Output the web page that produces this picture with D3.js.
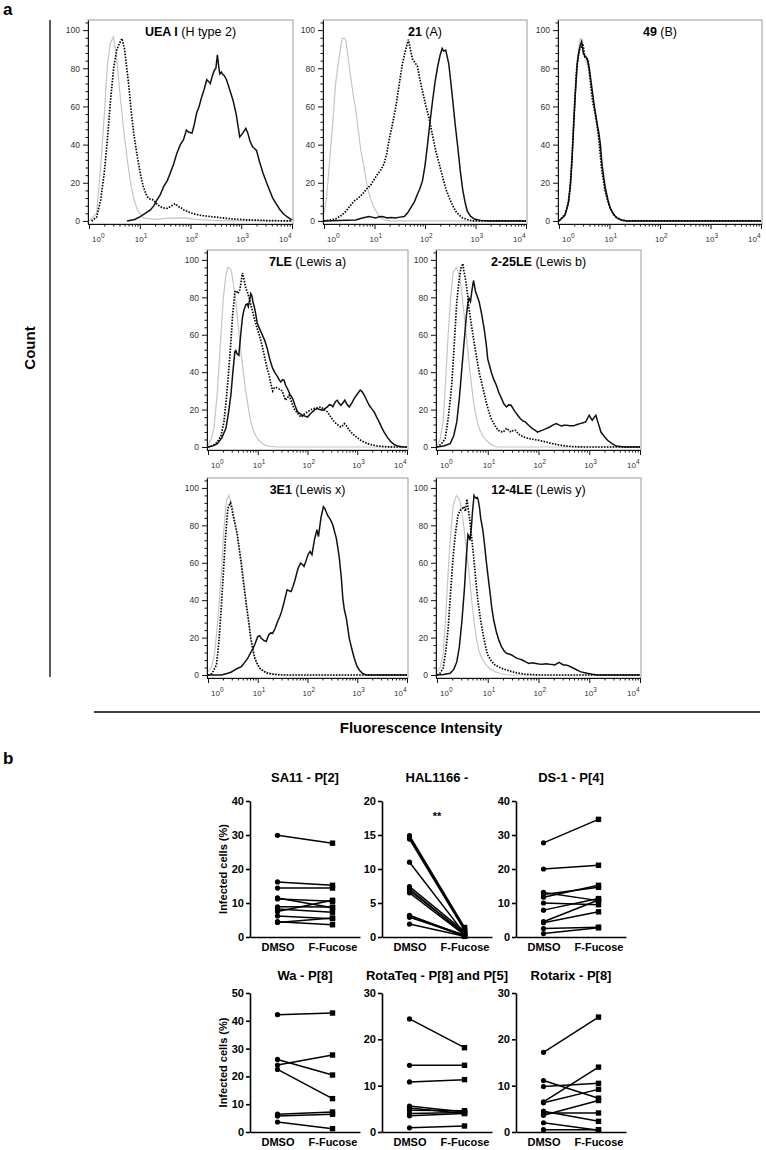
<!DOCTYPE html>
<html><head><meta charset="utf-8">
<script src="https://cdn.jsdelivr.net/npm/d3@7"></script>
<style>
body{margin:0;background:#fff}
svg{display:block;font-family:"Liberation Sans",Arial,Helvetica,sans-serif}
</style>
</head><body>
<svg id="chart" width="766" height="1150"></svg>
<script>
// ---------- Panel a : flow-cytometry histograms (x = log10 fluorescence, y = count %) ----------
const histBold = ["UEA I", "21", "49", "7LE", "2-25LE", "3E1", "12-4LE"];
const histNormal = [" (H type 2)", " (A)", " (B)", " (Lewis a)", " (Lewis b)", " (Lewis x)", " (Lewis y)"];
const yTickValues = [0, 20, 40, 60, 80, 100];
const xDecades = [0, 1, 2, 3, 4];

const ueaCtrl = [[0,0],[0.15,4],[0.23,28],[0.3,55],[0.36,81],[0.42,93],[0.48,96.5],[0.52,90],[0.56,81],[0.62,64],[0.69,46],[0.76,31],[0.82,20],[0.88,12],[0.95,6],[1.02,3],[1.08,1.5],[1.3,0.8],[1.6,1.5],[1.9,1.6],[2.1,0.8],[2.4,0.3],[3,0],[4,0]];
const ueaDot = [[0.05,0],[0.15,2],[0.23,11],[0.3,25],[0.36,42],[0.43,65],[0.49,81],[0.55,90],[0.6,93],[0.65,95.6],[0.7,90],[0.74,81],[0.78,72],[0.83,58],[0.88,46],[0.95,34],[1.01,25],[1.07,18],[1.14,13],[1.2,11.5],[1.27,11],[1.33,9],[1.4,7.5],[1.47,6.8],[1.54,6.6],[1.62,7.8],[1.7,9],[1.76,7.5],[1.82,6.8],[1.86,5.8],[1.94,5],[2.03,4],[2.1,3.5],[2.19,3],[2.3,2.6],[2.42,2.2],[2.52,2],[2.68,1.4],[2.84,1],[3.1,0.6],[3.5,0.2],[4,0]];
const ueaSolid = [[0.75,0],[0.9,0.8],[1.01,2.3],[1.1,3.8],[1.21,5.8],[1.28,8],[1.34,11],[1.4,13.5],[1.47,18],[1.54,21],[1.6,25],[1.67,30],[1.73,35.4],[1.8,40],[1.86,42.4],[1.92,47.6],[1.97,46.5],[2.03,46],[2.07,50],[2.12,56.4],[2.17,60],[2.22,65],[2.27,69],[2.32,74],[2.36,73],[2.39,72],[2.43,76],[2.47,79],[2.5,80],[2.53,87],[2.56,80],[2.58,77],[2.61,78],[2.63,77],[2.67,76],[2.71,74],[2.77,69],[2.84,63],[2.9,56],[2.97,44],[3.03,46],[3.09,48.5],[3.13,46],[3.17,42],[3.22,39],[3.26,38],[3.3,37],[3.36,31],[3.43,25],[3.5,20],[3.56,16],[3.62,12],[3.69,9],[3.76,6],[3.82,4],[3.9,2.2],[3.95,1.4],[4,0.5]];

const aCtrl = [[0,4],[0.05,12],[0.1,28],[0.17,50],[0.23,72],[0.3,86],[0.36,95.6],[0.4,95.8],[0.43,95],[0.48,85],[0.53,75],[0.58,66],[0.63,58],[0.68,47],[0.73,37],[0.8,27],[0.86,17.5],[0.93,11],[0.99,7],[1.06,4],[1.12,1.7],[1.2,0.5],[1.29,0],[4,0]];
const aDot = [[0,0],[0.23,1],[0.35,3],[0.43,5],[0.52,8],[0.6,10.5],[0.68,12],[0.76,14],[0.85,17],[0.93,19],[1.0,22],[1.06,24.5],[1.13,27],[1.19,30],[1.24,35],[1.29,42.5],[1.35,50],[1.42,59.4],[1.48,70],[1.55,82],[1.61,89],[1.67,95],[1.71,90],[1.75,85],[1.8,83],[1.85,81],[1.9,74],[1.95,68],[2.01,61],[2.08,54],[2.14,46],[2.21,37],[2.28,30],[2.35,23],[2.41,17],[2.48,12],[2.55,8],[2.61,5],[2.68,3],[2.74,1.7],[2.85,0.6],[2.94,0],[4,0]];
const aSolid = [[0,0],[0.3,0.2],[0.63,0.5],[0.76,1.5],[0.89,2.3],[0.95,2],[1.02,1.5],[1.09,2.2],[1.16,2.3],[1.25,1.6],[1.33,1.8],[1.42,1.5],[1.5,2],[1.59,2.3],[1.65,4],[1.72,7],[1.79,10],[1.85,14],[1.9,17],[1.95,21],[2.0,29],[2.05,40],[2.1,52],[2.15,63],[2.2,73],[2.25,80.8],[2.3,87],[2.34,90.4],[2.37,89],[2.41,89.5],[2.44,86],[2.47,82.5],[2.51,73],[2.55,63],[2.6,50],[2.65,38.5],[2.7,26],[2.75,15.7],[2.8,9],[2.84,5],[2.9,2.5],[2.98,1],[3.1,0.3],[3.27,0],[4,0]];

const bCtrl = [[0,0],[0.1,2],[0.18,8],[0.24,25],[0.3,55],[0.36,84],[0.41,94],[0.43,96],[0.47,90],[0.52,85],[0.58,80],[0.64,70],[0.7,60],[0.76,50],[0.81,38],[0.87,25],[0.93,14],[1.0,7],[1.08,3],[1.18,1],[1.35,0],[4,0]];
const bDot = [[0,0],[0.12,3.5],[0.18,9],[0.22,17],[0.25,30],[0.28,45],[0.31,62],[0.35,80],[0.38,86],[0.41,90],[0.44,91],[0.47,93],[0.49,90],[0.51,86],[0.55,85],[0.58,83.5],[0.61,76],[0.64,68],[0.67,62],[0.71,57],[0.75,51],[0.78,45],[0.81,37],[0.84,28],[0.88,21],[0.91,16],[0.96,11],[1.01,7],[1.07,4],[1.14,1.7],[1.22,0.6],[1.34,0],[4,0]];
const bSolid = [[0,0],[0.12,3],[0.19,10],[0.23,20],[0.26,33],[0.29,50],[0.33,70],[0.36,82],[0.39,88],[0.42,92],[0.45,94],[0.48,88],[0.5,87],[0.53,86],[0.56,85],[0.6,80],[0.64,72],[0.67,66],[0.7,60],[0.73,55],[0.76,50],[0.79,46],[0.82,40],[0.85,30],[0.89,22],[0.92,17],[0.97,11],[1.01,7],[1.08,3.5],[1.14,1.7],[1.25,0.4],[1.35,0],[4,0]];

const leaCtrl = [[0,1],[0.06,4],[0.12,10],[0.19,30],[0.26,60],[0.31,80],[0.36,92],[0.4,96],[0.44,95.5],[0.47,94],[0.51,87],[0.56,77.7],[0.61,64],[0.66,51],[0.71,40],[0.76,29.5],[0.81,21],[0.86,13.4],[0.91,9],[0.96,6],[1.01,4],[1.06,2.7],[1.12,1.4],[1.19,0.5],[1.4,0],[4,0]];
const leaDot = [[0,0],[0.1,0.8],[0.19,2.7],[0.26,6],[0.32,13.4],[0.37,26],[0.42,42],[0.46,56],[0.49,68.8],[0.52,77],[0.54,83],[0.57,83.5],[0.6,82],[0.62,83],[0.64,84],[0.67,89],[0.69,93],[0.72,90],[0.76,85],[0.8,82],[0.83,79.5],[0.88,74],[0.93,68.8],[0.98,64],[1.03,60],[1.08,55],[1.13,49],[1.18,43],[1.23,38],[1.27,33],[1.3,30],[1.33,31.5],[1.36,32],[1.4,31.5],[1.43,31],[1.47,30.5],[1.5,29.5],[1.53,27],[1.56,25],[1.6,26.5],[1.63,27.7],[1.68,24],[1.73,20.5],[1.8,18],[1.87,16],[1.93,17.5],[2.0,18.8],[2.07,20],[2.13,20.5],[2.2,21],[2.27,21.4],[2.33,20],[2.4,18.8],[2.47,16],[2.54,13.4],[2.6,12],[2.67,10.7],[2.71,11.5],[2.74,12.5],[2.79,11],[2.84,9],[2.89,7.5],[2.94,6.2],[3.0,5],[3.07,3.6],[3.14,2.6],[3.21,1.8],[3.3,1.1],[3.41,0.5],[3.6,0.1],[3.75,0],[4,0]];
const leaSolid = [[0,0],[0.1,0.6],[0.19,1.8],[0.28,5],[0.36,10],[0.41,18],[0.46,27.7],[0.5,40],[0.54,51],[0.56,51.5],[0.58,50],[0.6,49.5],[0.62,49],[0.65,58],[0.69,68.8],[0.72,73],[0.76,76],[0.79,76.5],[0.81,75],[0.84,79],[0.86,82],[0.88,81],[0.9,78],[0.93,75],[0.96,71],[0.99,66],[1.04,63],[1.09,60],[1.14,57],[1.19,52.7],[1.24,47],[1.3,42],[1.35,39.5],[1.4,37.5],[1.43,36],[1.46,34.8],[1.5,36],[1.53,35.7],[1.56,33],[1.6,31],[1.65,28],[1.7,26],[1.75,22],[1.8,18.8],[1.85,17.8],[1.9,17],[1.95,16.5],[2.0,16],[2.05,17.5],[2.1,18.8],[2.15,20],[2.2,20.5],[2.25,20],[2.3,19.6],[2.35,20.5],[2.4,21.4],[2.44,22.6],[2.48,22.3],[2.51,21.5],[2.54,23.2],[2.57,24.5],[2.6,25],[2.63,23.5],[2.67,22.3],[2.71,23.5],[2.75,25],[2.79,23],[2.84,21.4],[2.89,23.5],[2.94,26],[2.98,27.5],[3.02,29],[3.06,30.4],[3.1,29.5],[3.14,27.7],[3.19,25],[3.24,22.3],[3.29,20.5],[3.34,18.8],[3.39,16],[3.44,13.4],[3.49,10.5],[3.54,8],[3.61,5],[3.68,2.7],[3.75,1.2],[3.81,0.5],[3.9,0.1],[4,0]];

const lebCtrl = [[0,1],[0.06,4],[0.12,13.4],[0.17,35],[0.22,60],[0.27,80],[0.32,93.8],[0.38,96],[0.41,94],[0.45,90],[0.49,82],[0.53,72],[0.58,59],[0.63,45.5],[0.68,33],[0.73,22.3],[0.78,15],[0.83,10],[0.9,6],[0.97,3.6],[1.05,1.8],[1.12,0.6],[1.2,0],[4,0]];
const lebDot = [[0,0],[0.08,1.5],[0.16,4.5],[0.22,15],[0.29,33],[0.34,55],[0.39,77.7],[0.43,88],[0.47,95.5],[0.51,98],[0.53,94],[0.56,90],[0.6,82],[0.63,74],[0.68,65],[0.73,56],[0.78,48],[0.83,40],[0.9,32],[0.97,24],[1.02,19],[1.07,15],[1.13,12],[1.2,9],[1.25,8.3],[1.3,8],[1.34,9],[1.37,10],[1.41,9],[1.46,8],[1.5,8.8],[1.54,9],[1.59,7.5],[1.64,6.2],[1.72,5.3],[1.81,4.5],[1.91,4],[2.01,3.6],[2.14,2.7],[2.28,1.8],[2.42,1],[2.55,0.5],[2.7,0.2],[2.89,0],[4,0]];
const lebSolid = [[0,0],[0.13,0.5],[0.26,1.8],[0.33,6],[0.39,13.4],[0.44,26],[0.49,42],[0.54,58],[0.58,70.5],[0.61,77],[0.63,79.5],[0.66,77.7],[0.69,84],[0.72,89],[0.74,86],[0.76,83],[0.8,80],[0.83,77.7],[0.88,71],[0.93,63],[0.97,55],[1.0,47],[1.04,43],[1.07,40],[1.12,36],[1.17,33],[1.22,29],[1.27,26],[1.32,23],[1.37,21.4],[1.41,22.5],[1.46,22.3],[1.5,20.5],[1.54,18.8],[1.59,17],[1.64,15.2],[1.69,14],[1.74,13.4],[1.81,11.5],[1.88,9.8],[1.93,9],[1.98,8],[2.03,8.5],[2.08,9],[2.15,9.8],[2.22,10.7],[2.29,11.8],[2.35,12.5],[2.4,11.8],[2.45,11.3],[2.5,11.6],[2.55,11.6],[2.62,11.3],[2.69,11.3],[2.76,12],[2.82,12.5],[2.88,13],[2.93,13.4],[2.97,15.5],[3.0,17],[3.03,15.5],[3.06,14.3],[3.1,16],[3.13,17],[3.18,12.5],[3.23,8],[3.3,5.5],[3.36,3.6],[3.45,1.8],[3.53,0.5],[3.7,0],[4,0]];

const lxCtrl = [[0,1.8],[0.07,4],[0.13,10.7],[0.2,30],[0.27,55],[0.32,78],[0.37,93],[0.42,96],[0.45,94],[0.48,91],[0.52,85],[0.57,77],[0.62,69],[0.67,61],[0.72,50],[0.77,39],[0.82,28],[0.87,18],[0.92,11],[0.97,7],[1.02,4.5],[1.07,2.7],[1.17,1.5],[1.27,0.9],[1.45,0.3],[1.6,0],[4,0]];
const lxDot = [[0,0],[0.08,0.8],[0.17,5.4],[0.22,18],[0.27,37.5],[0.31,55],[0.35,73],[0.38,83],[0.4,89],[0.43,91],[0.45,92],[0.48,89],[0.5,85.7],[0.55,80],[0.59,75],[0.63,67],[0.67,59],[0.72,48],[0.77,37.5],[0.82,28],[0.86,19.6],[0.9,14],[0.94,9],[0.99,6],[1.04,3.6],[1.12,2],[1.2,0.9],[1.33,0.3],[1.47,0],[4,0]];
const lxSolid = [[0,0],[0.27,0],[0.4,0.9],[0.47,1.6],[0.54,2.7],[0.6,3.6],[0.67,4.5],[0.73,6.5],[0.8,9],[0.85,11.5],[0.9,14],[0.95,17],[1.0,20.5],[1.04,21],[1.07,19.6],[1.12,18.5],[1.17,17.9],[1.22,21.4],[1.26,22.5],[1.3,22.3],[1.35,25],[1.4,28.6],[1.44,31],[1.48,34],[1.53,39],[1.59,45.5],[1.63,45],[1.67,44.6],[1.71,47.5],[1.74,50],[1.78,54],[1.81,57],[1.86,59.8],[1.9,59],[1.93,58],[1.97,61],[2.01,64.3],[2.05,66],[2.09,64.3],[2.14,72.3],[2.19,77.7],[2.22,74],[2.27,84],[2.32,90],[2.35,89],[2.37,87.5],[2.41,85],[2.44,84],[2.48,82],[2.51,80],[2.55,76],[2.58,73],[2.61,68],[2.64,62.5],[2.68,52],[2.71,41],[2.74,35],[2.78,30.4],[2.81,25],[2.84,19.6],[2.89,14],[2.94,9],[2.99,5],[3.04,2.7],[3.1,1],[3.18,0],[4,0]];

const lyCtrl = [[0,1.8],[0.06,4],[0.12,10.7],[0.17,30],[0.22,55],[0.27,76],[0.32,91],[0.38,96],[0.41,95],[0.45,93],[0.49,87],[0.53,79],[0.58,67],[0.63,55],[0.68,41],[0.73,28.6],[0.78,19],[0.83,12.5],[0.9,8],[0.97,5.4],[1.05,3.2],[1.14,1.8],[1.25,0.8],[1.4,0],[4,0]];
const lyDot = [[0,0],[0.06,1],[0.12,3.6],[0.17,12],[0.22,25],[0.27,45],[0.32,64],[0.36,75],[0.41,85],[0.44,87],[0.47,88.4],[0.5,89],[0.53,90],[0.56,87.5],[0.59,94],[0.62,88],[0.65,82],[0.68,74],[0.72,64],[0.76,52],[0.8,41],[0.85,31],[0.9,23],[0.95,16],[1.0,10.7],[1.07,7.5],[1.14,5.4],[1.2,4.5],[1.27,3.6],[1.37,2.7],[1.47,1.8],[1.6,1],[1.74,0.4],[2.0,0],[4,0]];
const lySolid = [[0,0],[0.13,0.3],[0.26,0.9],[0.33,3],[0.39,7],[0.44,15],[0.49,28.6],[0.54,46],[0.58,64],[0.61,75],[0.63,74],[0.65,72],[0.68,80],[0.7,87.5],[0.73,96],[0.75,95],[0.77,94.6],[0.79,95],[0.81,94],[0.84,89],[0.86,84],[0.9,78],[0.93,71.4],[0.97,61],[1.01,51.8],[1.05,43],[1.08,35.7],[1.12,29],[1.17,23],[1.22,18.5],[1.27,15.2],[1.32,13],[1.37,11.6],[1.42,11.2],[1.47,10.7],[1.52,9.8],[1.57,9],[1.63,8.5],[1.68,8],[1.75,7],[1.81,6.2],[1.88,6.5],[1.95,6.2],[2.01,5.9],[2.08,5.7],[2.15,6],[2.22,5.7],[2.28,5.6],[2.32,5.4],[2.37,6.2],[2.41,6.8],[2.45,6],[2.49,5.4],[2.54,5.3],[2.59,5],[2.64,4.3],[2.69,3.6],[2.76,2.7],[2.82,1.8],[2.89,1.3],[2.96,0.9],[3.06,0.4],[3.16,0],[4,0]];

// ---------- Panel b : infected cells (%) ----------
const conditions = ["DMSO", "F-Fucose"];
const strainTitles = ["SA11 - P[2]", "HAL1166 -", "DS-1 - P[4]", "Wa - P[8]", "RotaTeq - P[8] and P[5]", "Rotarix - P[8]"];
const yMaxima = [40, 20, 40, 50, 30, 30];
const yStepValues = [10, 5, 10, 10, 10, 10];

const sa11Dmso = [29.9, 16.2, 14.4, 11.5, 11.2, 8.9, 8.2, 7.5, 6.2, 4.5, 4.3];
const sa11Fucose = [27.6, 15.2, 14.4, 8.6, 10.5, 8.8, 7.3, 10.8, 5.4, 3.6, 5.6];
const halDmso = [14.9, 14.6, 14.4, 11.0, 7.4, 7.1, 6.8, 6.5, 3.2, 3.0, 2.9, 1.9];
const halFucose = [1.4, 1.2, 1.0, 0.5, 0.8, 0.4, 0.6, 0.3, 0.2, 0.1, 0.3, 0.1];
const ds1Dmso = [27.7, 20.0, 13.1, 12.5, 11.7, 10.0, 7.9, 4.5, 4.2, 2.5, 1.0];
const ds1Fucose = [34.6, 21.1, 10.7, 14.6, 15.2, 9.5, 11.3, 10.9, 7.4, 2.9, 2.7];
const waDmso = [42.2, 26.1, 24.1, 22.5, 6.4, 5.8, 3.6];
const waFucose = [42.8, 20.5, 27.7, 12.0, 7.2, 6.4, 1.2];
const rotateqDmso = [24.4, 14.4, 10.8, 5.6, 5.2, 4.7, 4.0, 3.5, 0.9];
const rotateqFucose = [18.2, 14.4, 11.3, 4.3, 4.0, 4.6, 4.2, 4.0, 1.3];
const rotarixDmso = [17.2, 11.1, 9.8, 6.5, 6.3, 4.5, 4.1, 3.6, 2.0, 0.5];
const rotarixFucose = [24.8, 7.3, 10.5, 14.0, 9.2, 2.3, 4.1, 6.8, 0.4, 0.5];

// ================= drawing =================
const svg = d3.select("#chart");

svg.append("text").attr("x", 3).attr("y", 15).attr("font-size", 17).attr("font-weight", "bold").text("a");
svg.append("text").attr("x", 3).attr("y", 764).attr("font-size", 17).attr("font-weight", "bold").text("b");

// frame lines + shared labels of panel a
svg.append("line").attr("x1", 50).attr("x2", 50).attr("y1", 20).attr("y2", 677).attr("stroke", "#000").attr("stroke-width", 1.3);
svg.append("text").attr("transform", "translate(35,348) rotate(-90)").attr("text-anchor", "middle")
  .attr("font-size", 15).attr("font-weight", "bold").text("Count");
svg.append("line").attr("x1", 94).attr("x2", 760).attr("y1", 712).attr("y2", 712).attr("stroke", "#000").attr("stroke-width", 1.3);
svg.append("text").attr("x", 421).attr("y", 733).attr("text-anchor", "middle")
  .attr("font-size", 15).attr("font-weight", "bold").text("Fluorescence Intensity");

const histSeries = [
  [ueaCtrl, ueaDot, ueaSolid], [aCtrl, aDot, aSolid], [bCtrl, bDot, bSolid],
  [leaCtrl, leaDot, leaSolid], [lebCtrl, lebDot, lebSolid],
  [lxCtrl, lxDot, lxSolid], [lyCtrl, lyDot, lySolid]
];
// layout: [left, right, top, axisY]
const histLayout = [
  [88, 293, 20, 224], [323, 527, 20, 224], [558, 762, 20, 224],
  [207, 408, 250, 450], [436, 641, 250, 450],
  [207, 408, 478, 678], [436, 641, 478, 678]
];

function histPanel(i) {
  const [x0, x1, top, axisY] = histLayout[i];
  const g = svg.append("g");
  const x = d3.scaleLog().domain([1, 1e4]).range([x0 + 1, x1 - 1]);
  const y = d3.scaleLinear().domain([-1.6, 105.3]).range([axisY, top]);

  g.append("rect").attr("x", x0).attr("y", top).attr("width", x1 - x0).attr("height", axisY - top)
    .attr("fill", "none").attr("stroke", "#9a9a9a").attr("stroke-width", 1);

  const line = d3.line().x(d => x(Math.pow(10, d[0]))).y(d => y(d[1]));
  const [ctrl, dot, solid] = histSeries[i];
  g.append("path").datum(ctrl).attr("d", line).attr("fill", "none").attr("stroke", "#c6c6c6").attr("stroke-width", 1.2);
  g.append("path").datum(solid).attr("d", line).attr("fill", "none").attr("stroke", "#111").attr("stroke-width", 1.5);
  g.append("path").datum(dot).attr("d", line).attr("fill", "none").attr("stroke", "#000")
    .attr("stroke-width", 1.7).attr("stroke-dasharray", "1.5,1.4");

  // y axis
  const yAx = g.append("g").attr("transform", `translate(${x0},0)`)
    .call(d3.axisLeft(y).tickValues(yTickValues).tickSize(5).tickSizeOuter(0).tickPadding(3).tickFormat(d3.format("d")));
  yAx.selectAll("text").attr("font-size", 8.5).attr("fill", "#333").attr("font-family", "Liberation Sans, Arial");
  const yMinor = d3.range(0, 105, 4).filter(v => v % 20 !== 0);
  const yAx2 = g.append("g").attr("transform", `translate(${x0},0)`)
    .call(d3.axisLeft(y).tickValues(yMinor).tickSize(2.5).tickFormat(""));
  yAx2.select(".domain").remove();
  g.selectAll(".tick line, .domain").attr("stroke", "#111");

  // x axis
  const majors = xDecades.map(e => Math.pow(10, e));
  const minors = [];
  for (let e = 0; e < 4; e++) for (let m = 2; m <= 9; m++) minors.push(m * Math.pow(10, e));
  const xAx = g.append("g").attr("transform", `translate(0,${axisY})`)
    .call(d3.axisBottom(x).tickValues(majors).tickSize(5).tickSizeOuter(0).tickFormat(""));
  xAx.select(".domain").attr("d", `M${x0},0.5H${x1}`);
  const xAx2 = g.append("g").attr("transform", `translate(0,${axisY})`)
    .call(d3.axisBottom(x).tickValues(minors).tickSize(2.5).tickFormat(""));
  xAx2.select(".domain").remove();
  g.selectAll(".tick line, .domain").attr("stroke", "#111").attr("stroke-width", 1);

  xDecades.forEach((e, k) => {
    const px = x(Math.pow(10, e));
    const off = k === 0 ? 3 : (k === 4 ? -13 : -5);
    const t = g.append("text").attr("x", px + off).attr("y", axisY + 18).attr("font-size", 8).attr("fill", "#333");
    t.append("tspan").text("10");
    t.append("tspan").attr("dy", -4).attr("font-size", 6.5).text(e);
  });

  const title = g.append("text").attr("x", (x0 + x1) / 2).attr("y", top + 16).attr("text-anchor", "middle").attr("font-size", 12.5);
  title.append("tspan").attr("font-weight", "bold").text(histBold[i]);
  title.append("tspan").text(histNormal[i]);
}
histSeries.forEach((s, i) => histPanel(i));

// ---------- panel b ----------
const strainData = [
  [sa11Dmso, sa11Fucose], [halDmso, halFucose], [ds1Dmso, ds1Fucose],
  [waDmso, waFucose], [rotateqDmso, rotateqFucose], [rotarixDmso, rotarixFucose]
];
const axisXs = [250, 382, 516];
const rowY = [[937, 801, 782], [1132, 993, 980]]; // [zeroY, topY, titleY]

function strainPanel(i) {
  const col = i % 3, row = Math.floor(i / 3);
  const ax = axisXs[col];
  const [y0, yt, ty] = rowY[row];
  const g = svg.append("g");
  const y = d3.scaleLinear().domain([0, yMaxima[i]]).range([y0, yt]);
  const x = d3.scalePoint().domain(conditions).range([ax, ax + 110]).padding(0.5);

  const yAx = g.append("g").attr("transform", `translate(${ax},0)`)
    .call(d3.axisLeft(y).tickValues(d3.range(0, yMaxima[i] + 0.01, yStepValues[i])).tickSize(4).tickSizeOuter(0).tickPadding(2));
  yAx.selectAll("text").attr("font-size", 11).attr("font-weight", "bold").attr("font-family", "Liberation Sans, Arial").attr("fill", "#000");
  const xAx = g.append("g").attr("transform", `translate(0,${y0})`)
    .call(d3.axisBottom(x).tickSize(0).tickSizeOuter(0).tickPadding(6));
  xAx.selectAll("text").attr("font-size", 11).attr("font-weight", "bold").attr("font-family", "Liberation Sans, Arial").attr("fill", "#000");
  g.selectAll(".domain, .tick line").attr("stroke", "#000").attr("stroke-width", 1.6);

  const [dm, fu] = strainData[i];
  const line = d3.line().x(d => x(d[0])).y(d => y(d[1]));
  dm.forEach((v, k) => {
    g.append("path").datum([[conditions[0], v], [conditions[1], fu[k]]]).attr("d", line)
      .attr("fill", "none").attr("stroke", "#000").attr("stroke-width", 1.5);
  });
  g.selectAll(".dm").data(dm).enter().append("circle")
    .attr("cx", x(conditions[0])).attr("cy", d => y(d)).attr("r", 2.6).attr("fill", "#000");
  g.selectAll(".fu").data(fu).enter().append("rect")
    .attr("x", x(conditions[1]) - 2.7).attr("y", d => y(d) - 2.7).attr("width", 5.4).attr("height", 5.4).attr("fill", "#000");

  g.append("text").attr("x", ax + 55).attr("y", ty).attr("text-anchor", "middle")
    .attr("font-size", 13).attr("font-weight", "bold").text(strainTitles[i]);
  if (col === 0) {
    g.append("text").attr("transform", `translate(${ax - 23},${(y0 + yt) / 2}) rotate(-90)`).attr("text-anchor", "middle")
      .attr("font-size", 11).attr("font-weight", "bold").text("Infected cells (%)");
  }
  if (i === 1) {
    g.append("text").attr("x", ax + 55).attr("y", y(17.2)).attr("text-anchor", "middle")
      .attr("font-size", 11).attr("font-weight", "bold").text("**");
  }
}
strainData.forEach((d, i) => strainPanel(i));
</script>
</body></html>
